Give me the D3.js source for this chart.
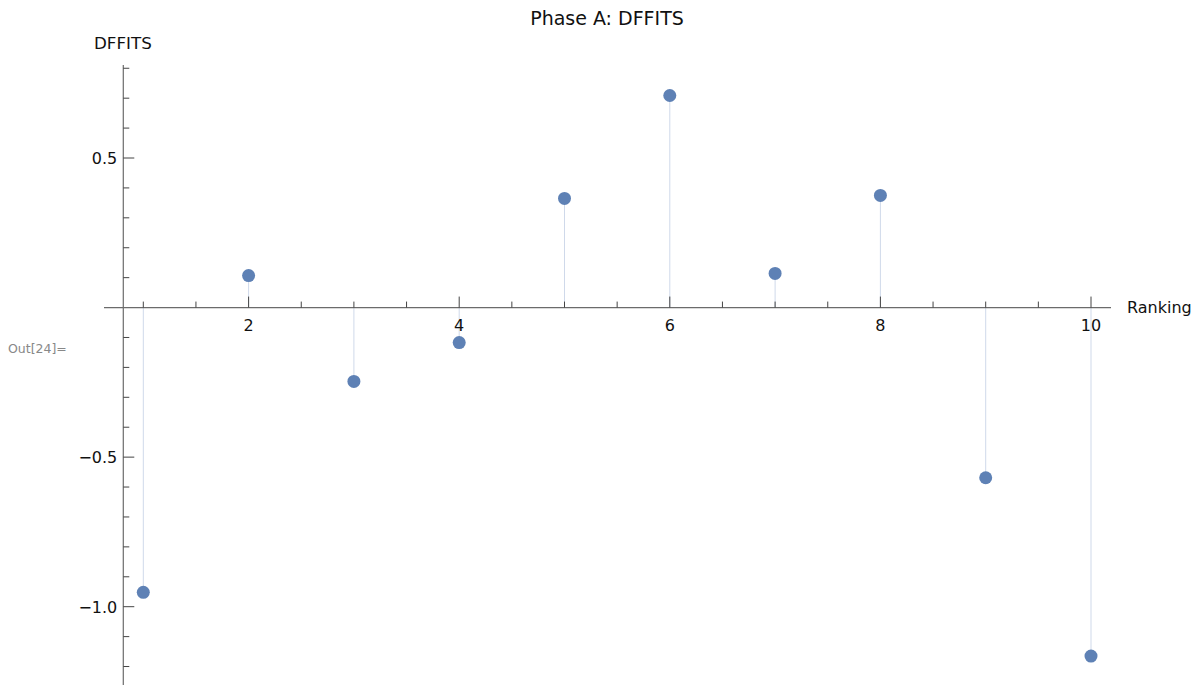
<!DOCTYPE html>
<html><head><meta charset="utf-8">
<script src="https://cdn.jsdelivr.net/npm/d3@7"></script>
<style>body{margin:0;background:#fff;} text{font-family:"DejaVu Sans",sans-serif;}</style>
</head><body>
<svg id="c" width="1194" height="685"></svg>
<script>
const rankings = [1,2,3,4,5,6,7,8,9,10];
const dffits = [-0.952,0.107,-0.247,-0.117,0.365,0.709,0.114,0.375,-0.569,-1.165];
const xMajorTicks = [2,4,6,8,10];
const yMajorTicks = [0.5,-0.5,-1.0];
const yTickLabels = ["0.5","\u22120.5","\u22121.0"];

const svg = d3.select("#c");
const x = d3.scaleLinear().domain([1,10]).range([143.3,1091]);
const y = d3.scaleLinear().domain([0.5,-1.0]).range([158,606.7]);
const axisColor = "#6b6b6b";
const x0 = x(0.81), y0 = y(0);

// stems
svg.selectAll("line.stem").data(rankings).enter().append("line")
  .attr("x1",(d)=>x(d)).attr("x2",(d)=>x(d))
  .attr("y1",y0).attr("y2",(d,i)=>y(dffits[i]))
  .attr("stroke","#cfd9ea").attr("stroke-width",1);

// x axis line
svg.append("line").attr("x1",104).attr("x2",1111).attr("y1",y0).attr("y2",y0)
  .attr("stroke",axisColor).attr("stroke-width",1.2);
// y axis line
svg.append("line").attr("x1",x0).attr("x2",x0).attr("y1",65).attr("y2",685)
  .attr("stroke",axisColor).attr("stroke-width",1.2);

// x ticks
const xMinor = d3.range(1,10.01,0.5).filter(v=>!xMajorTicks.includes(v));
svg.selectAll("line.xmin").data(xMinor).enter().append("line")
  .attr("x1",d=>x(d)).attr("x2",d=>x(d)).attr("y1",y0).attr("y2",y0-6)
  .attr("stroke","#444").attr("stroke-width",1);
svg.selectAll("line.xmaj").data(xMajorTicks).enter().append("line")
  .attr("x1",d=>x(d)).attr("x2",d=>x(d)).attr("y1",y0).attr("y2",y0-11)
  .attr("stroke","#444").attr("stroke-width",1);
svg.selectAll("text.xl").data(xMajorTicks).enter().append("text")
  .attr("x",d=>x(d)).attr("y",y0+23).attr("text-anchor","middle")
  .attr("font-size",16).attr("fill","#111").text(d=>d);

// y ticks
const yMinor = d3.range(-12,9).map(v=>v/10).filter(v=>v!==0 && !yMajorTicks.some(m=>Math.abs(m-v)<1e-9));
svg.selectAll("line.ymin").data(yMinor).enter().append("line")
  .attr("x1",x0).attr("x2",x0+6).attr("y1",d=>y(d)).attr("y2",d=>y(d))
  .attr("stroke","#444").attr("stroke-width",1);
svg.selectAll("line.ymaj").data(yMajorTicks).enter().append("line")
  .attr("x1",x0).attr("x2",x0+11).attr("y1",d=>y(d)).attr("y2",d=>y(d))
  .attr("stroke","#444").attr("stroke-width",1);
svg.selectAll("text.yl").data(yMajorTicks).enter().append("text")
  .attr("x",x0-6).attr("y",d=>y(d)+6).attr("text-anchor","end")
  .attr("font-size",16).attr("fill","#111").text((d,i)=>yTickLabels[i]);

// points
svg.selectAll("circle.pt").data(rankings).enter().append("circle")
  .attr("cx",d=>x(d)).attr("cy",(d,i)=>y(dffits[i])).attr("r",6.5)
  .attr("fill","#5e81b5");

// labels
svg.append("text").attr("x",607).attr("y",25).attr("text-anchor","middle")
  .attr("font-size",19).attr("fill","#111").text("Phase A: DFFITS");
svg.append("text").attr("x",94).attr("y",49).attr("font-size",16.7).attr("fill","#111").text("DFFITS");
svg.append("text").attr("x",1127).attr("y",313).attr("font-size",16).attr("fill","#111").text("Ranking");
svg.append("text").attr("x",8).attr("y",353).attr("font-family","Roboto, sans-serif").attr("font-size",12.5).attr("fill","#888").text("Out[24]=");
</script>
</body></html>
